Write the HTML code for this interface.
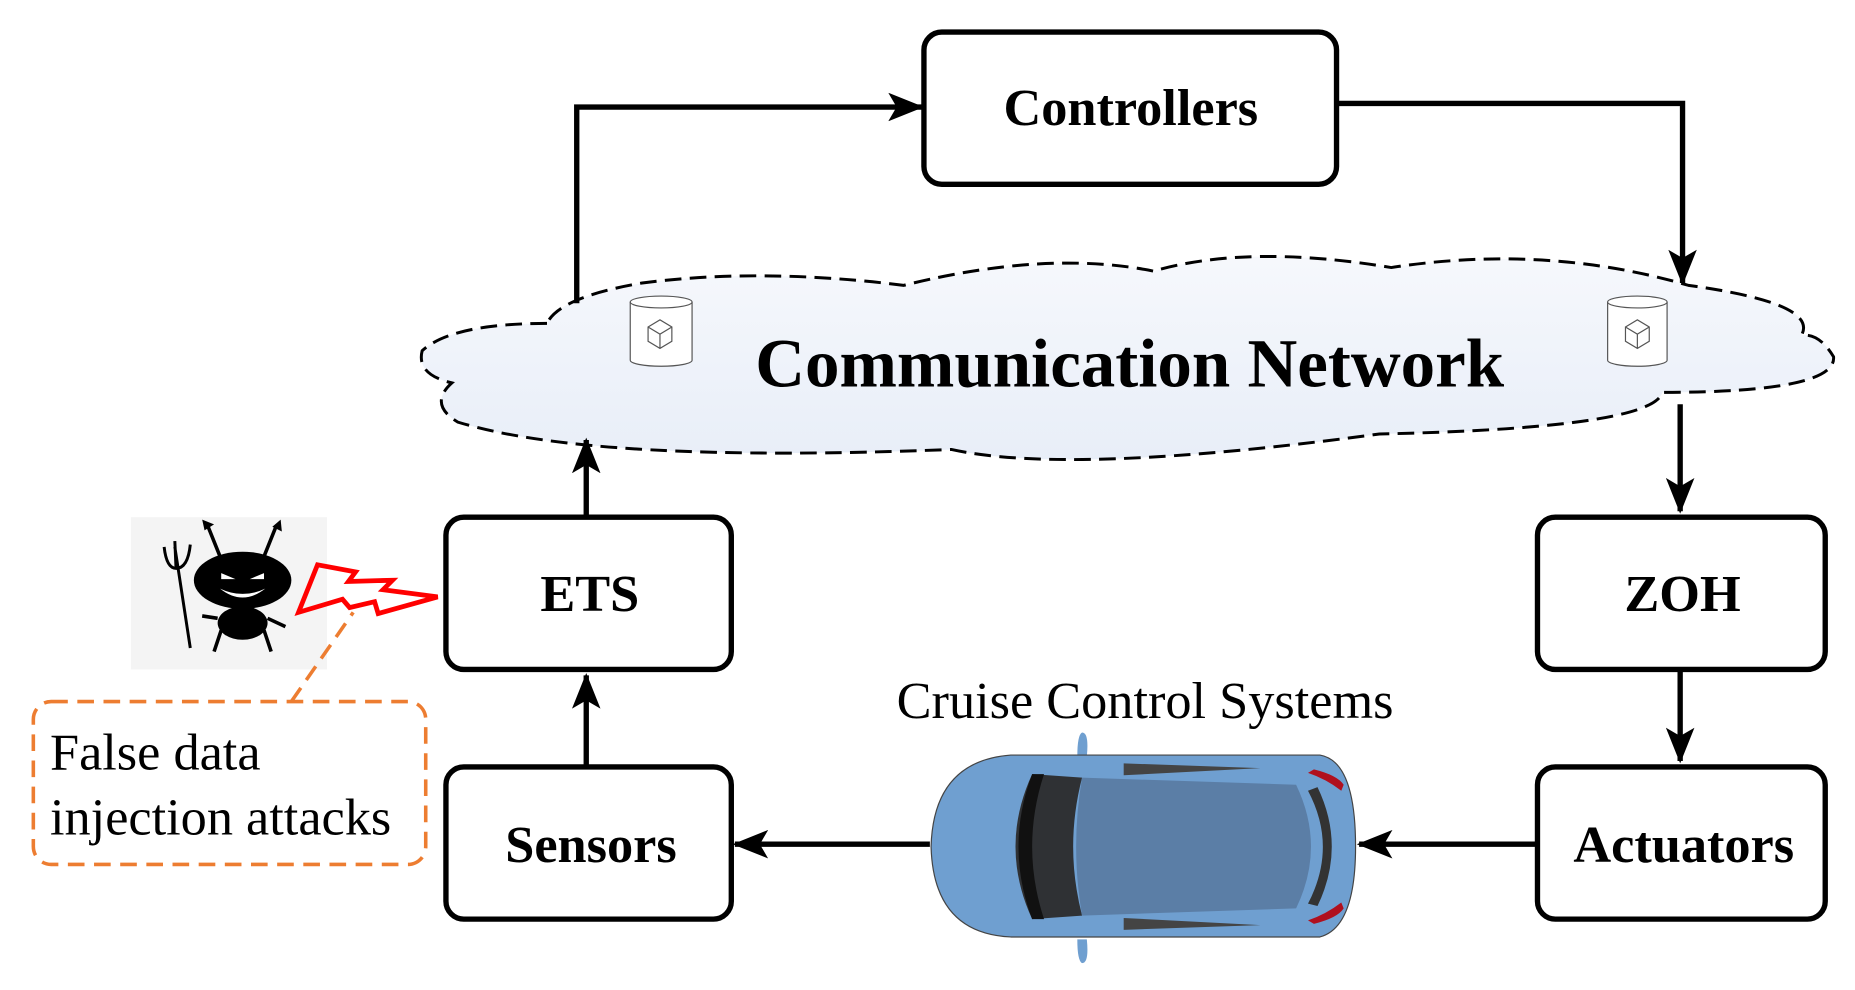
<!DOCTYPE html>
<html><head><meta charset="utf-8"><style>html,body{margin:0;padding:0;background:#fff}svg{display:block}</style></head>
<body>
<svg width="1855" height="990" viewBox="0 0 1560 832.6" xmlns="http://www.w3.org/2000/svg" font-family="Liberation Serif, serif">
<defs>
<linearGradient id="cg" x1="0" y1="0" x2="0" y2="1"><stop offset="0" stop-color="#f6f8fc"/><stop offset="1" stop-color="#e8eef8"/></linearGradient>
<marker id="ah" markerWidth="30" markerHeight="24" refX="28" refY="12" orient="auto" markerUnits="userSpaceOnUse" viewBox="0 0 30 24"><path d="M0,0 L30,12 L0,24 L7,12 Z" fill="#000"/></marker>
</defs>
<!-- cloud -->
<path d="M460,272 Q380,272 355,295 Q350,315 380,322 Q360,340 385,355 Q500,390 800,378 Q900,400 1160,365 Q1390,360 1398,330 Q1545,330 1542,300 Q1530,280 1515,282 Q1530,255 1420,240 Q1300,205 1170,225 Q1050,205 970,228 Q880,210 760,240 Q640,225 540,238 Q470,250 460,272 Z" fill="url(#cg)" stroke="#000" stroke-width="2.5" stroke-dasharray="14,7"/>
<text x="950" y="325" font-size="58" font-weight="bold" text-anchor="middle">Communication Network</text>
<!-- cylinders -->
<g fill="#fff" stroke="#555" stroke-width="1">
<path d="M530,254 L530,303 A26,5 0 0 0 582,303 L582,254"/><ellipse cx="556" cy="254" rx="26" ry="5"/>
<path d="M1352,254 L1352,303 A25,5 0 0 0 1402,303 L1402,254"/><ellipse cx="1377" cy="254" rx="25" ry="5"/>
<path d="M545,275 l10,-6 l10,6 l0,12 l-10,6 l-10,-6 z M545,275 l10,6 l10,-6 M555,281 l0,12" fill="none"/>
<path d="M1367,275 l10,-6 l10,6 l0,12 l-10,6 l-10,-6 z M1367,275 l10,6 l10,-6 M1377,281 l0,12" fill="none"/>
</g>
<!-- boxes -->
<g fill="#fff" stroke="#000" stroke-width="4.5">
<rect x="777" y="27" width="347" height="128" rx="15"/>
<rect x="375" y="435" width="240" height="128" rx="15"/>
<rect x="375" y="645" width="240" height="128" rx="15"/>
<rect x="1293" y="435" width="242" height="128" rx="15"/>
<rect x="1293" y="645" width="242" height="128" rx="15"/>
</g>
<g font-size="44" font-weight="bold" text-anchor="middle">
<text x="951" y="105">Controllers</text>
<text x="496" y="514">ETS</text>
<text x="497" y="725">Sensors</text>
<text x="1415" y="514">ZOH</text>
<text x="1416" y="725">Actuators</text>
</g>
<!-- connectors -->
<g stroke="#000" stroke-width="4.5" fill="none" marker-end="url(#ah)">
<path d="M485,255 L485,90 L775,90"/>
<path d="M1126,87 L1415,87 L1415,238"/>
<path d="M1413,340 L1413,430"/>
<path d="M1413,565 L1413,640"/>
<path d="M1293,710 L1143,710"/>
<path d="M782,710 L618,710"/>
<path d="M493,643 L493,568"/>
<path d="M493,433 L493,370"/>
</g>
<!-- car -->
<g>
<path d="M910,616 q6,0 4,20 l-8,0 q0,-18 4,-20z M910,810 q6,0 4,-20 l-8,0 q0,18 4,20z" fill="#6f9fd0"/>
<path d="M850,635 L1110,635 Q1140,640 1140,712 Q1140,780 1110,788 L850,788 Q785,785 783,712 Q785,640 850,635 Z" fill="#6f9fd0" stroke="#444" stroke-width="1"/>
<path d="M868,651 Q840,712 868,773 L910,770 Q895,712 910,654 Z" fill="#2f3134"/>
<path d="M868,651 Q845,712 868,773 L878,773 Q858,712 878,651Z" fill="#111"/>
<path d="M910,654 L1090,660 Q1115,712 1090,764 L910,770 Q900,712 910,654Z" fill="#5b7ea6"/>
<path d="M945,642 L1060,646 L945,652Z M945,782 L1060,778 L945,772Z" fill="#444"/>
<path d="M1105,647 Q1125,652 1130,660 L1128,665 Q1115,655 1100,650Z M1105,777 Q1125,772 1130,764 L1128,759 Q1115,769 1100,774Z" fill="#b0101e"/>
<path d="M1100,665 Q1125,712 1100,760 L1108,762 Q1132,712 1108,662Z" fill="#333"/>
</g>
<text x="963" y="604" font-size="44" text-anchor="middle">Cruise Control Systems</text>
<!-- attacker -->
<rect x="110" y="435" width="165" height="128" fill="#f4f4f4"/>
<g fill="#000" stroke="#000">
<ellipse cx="204" cy="488" rx="41" ry="24" stroke="none"/>
<ellipse cx="204" cy="524" rx="21" ry="14" stroke="none"/>
<path d="M185,468 L175,443 M222,468 L232,443 M186,530 L180,548 M222,530 L228,548 M183,520 L170,518 M225,520 L240,527" stroke-width="3" fill="none"/>
<path d="M170,437 l10,4 l-8,5z M236,437 l1,10 l-8,-4z" stroke="none"/>
<path d="M160,545 L147,460 M138,460 Q140,478 148,478 Q158,478 160,458 M148,478 L147,455" stroke-width="2.5" fill="none"/>
<path d="M185,495 Q204,510 223,495 Q204,504 185,495Z M186,482 l12,5 l-12,0z M222,482 l-12,5 l12,0z" fill="#fff" stroke="none"/>
</g>
<polygon points="251,515 267,475 299,481 293,489 330,488 322,496 368,502 318,516 315,506 294,511 288,504" fill="none" stroke="#f00" stroke-width="4"/>
<!-- attack label -->
<line x1="245" y1="590" x2="297" y2="515" stroke="#ed7d31" stroke-width="3" stroke-dasharray="14,8"/>
<rect x="28" y="590" width="330" height="137" rx="15" fill="#fff" stroke="#ed7d31" stroke-width="3" stroke-dasharray="14,8"/>
<g font-size="44"><text x="42" y="647">False data</text><text x="42" y="702">injection attacks</text></g>
</svg>
</body></html>
